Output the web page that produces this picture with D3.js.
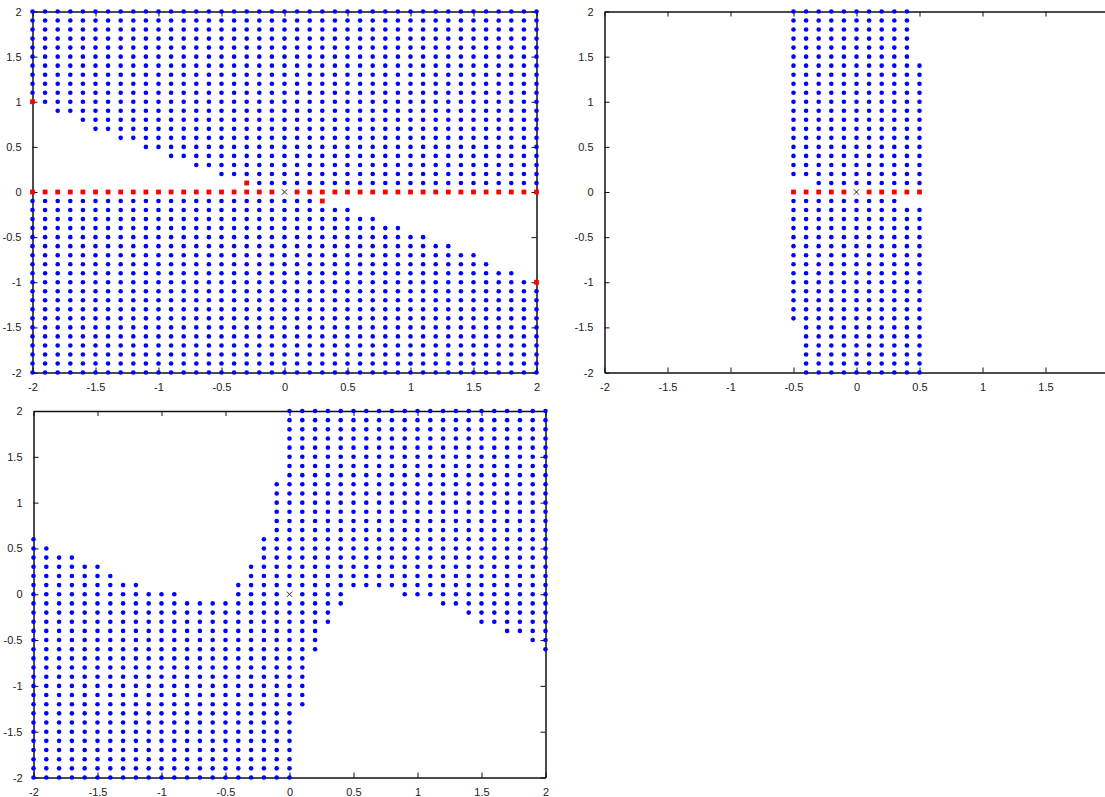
<!DOCTYPE html>
<html>
<head>
<meta charset="utf-8">
<script src="https://cdn.jsdelivr.net/npm/d3@7"></script>
<style>
  body { margin: 0; background: #fff; }
  svg { display: block; }
  .tick text { font-family: "Liberation Sans", Arial, sans-serif; font-size: 11px; fill: #222; }
</style>
</head>
<body>
<div id="chart"></div>
<script>
// tick values shared by every panel
const ticks = [-2, -1.5, -1, -0.5, 0, 0.5, 1, 1.5, 2];
const grid = d3.range(-20, 21).map(i => i / 10); // sample grid, step 0.1

// panel 1 : rows above zero, blue from this x to the right
const p1UpRows = [1.0, 0.9, 0.8, 0.7, 0.6, 0.5, 0.4, 0.3, 0.2, 0.1];
const p1UpStart = [-1.9, -1.8, -1.6, -1.5, -1.3, -1.1, -0.9, -0.7, -0.5, -0.2];
// panel 1 : rows below zero, blue from the left up to this x
const p1DownRows = [-1.0, -0.9, -0.8, -0.7, -0.6, -0.5, -0.4, -0.3, -0.2, -0.1];
const p1DownEnd = [1.9, 1.8, 1.6, 1.5, 1.3, 1.1, 0.9, 0.7, 0.5, 0.2];
const p1Red = [[-2, 1], [-0.3, 0.1], [0.3, -0.1], [2, -1]];

// panel 2 : columns and their y extent
const p2Cols = [-0.5, -0.4, -0.3, -0.2, -0.1, 0, 0.1, 0.2, 0.3, 0.4, 0.5];
const p2Bottom = [-1.4, -2, -2, -2, -2, -2, -2, -2, -2, -2, -2];
const p2Top = [2, 2, 2, 2, 2, 2, 2, 2, 2, 2, 1.4];
const p2Missing = [[-0.5, 0.1], [-0.4, 0.1], [0.4, -0.1], [0.5, -0.1]];

// panel 3 : for every column x = -2.0 .. 2.0, the y extent
const p3Top = [0.6, 0.5, 0.4, 0.4, 0.3, 0.3, 0.2, 0.1, 0.1, 0.0, 0.0, 0.0, -0.1, -0.1, -0.1, -0.1, 0.1, 0.3, 0.6, 1.2,
  2, 2, 2, 2, 2, 2, 2, 2, 2, 2, 2, 2, 2, 2, 2, 2, 2, 2, 2, 2, 2];
const p3Bottom = [-2, -2, -2, -2, -2, -2, -2, -2, -2, -2, -2, -2, -2, -2, -2, -2, -2, -2, -2, -2, -2,
  -1.2, -0.6, -0.3, -0.1, 0.1, 0.1, 0.1, 0.1, 0.0, 0.0, 0.0, -0.1, -0.1, -0.2, -0.3, -0.3, -0.4, -0.4, -0.5, -0.6];

const W = 1105, H = 797;
const svg = d3.select("#chart").append("svg").attr("width", W).attr("height", H);

const eq = (a, b) => Math.abs(a - b) < 1e-6;

function panelPoints(n) {
  const blue = [], red = [];
  if (n === 1) {
    grid.forEach(y => grid.forEach(x => {
      if (eq(x, 0) && eq(y, 0)) return;
      if (eq(y, 0)) { red.push([x, y]); return; }
      if (p1Red.some(p => eq(p[0], x) && eq(p[1], y))) { red.push([x, y]); return; }
      let i = p1UpRows.findIndex(r => eq(r, y));
      if (i >= 0) { if (x >= p1UpStart[i] - 1e-6) blue.push([x, y]); return; }
      i = p1DownRows.findIndex(r => eq(r, y));
      if (i >= 0) { if (x <= p1DownEnd[i] + 1e-6) blue.push([x, y]); return; }
      blue.push([x, y]);
    }));
  } else if (n === 2) {
    p2Cols.forEach((x, i) => grid.forEach(y => {
      if (y < p2Bottom[i] - 1e-6 || y > p2Top[i] + 1e-6) return;
      if (eq(x, 0) && eq(y, 0)) return;
      if (eq(y, 0)) { red.push([x, y]); return; }
      if (p2Missing.some(p => eq(p[0], x) && eq(p[1], y))) return;
      blue.push([x, y]);
    }));
  } else {
    grid.forEach((x, i) => grid.forEach(y => {
      if (y < p3Bottom[i] - 1e-6 || y > p3Top[i] + 1e-6) return;
      if (eq(x, 0) && eq(y, 0)) return;
      blue.push([x, y]);
    }));
  }
  return { blue, red };
}

function drawPanel(n, left, right, top, bottom, clipped) {
  const x = d3.scaleLinear().domain([-2, 2]).range([left, right]);
  const y = d3.scaleLinear().domain([-2, 2]).range([bottom, top]);
  const g = svg.append("g");
  const fmt = d => String(d);
  // the right edge of panel 2 falls outside the window, so its last label is not shown
  const xFmt = clipped ? (d => d === 2 ? "" : String(d)) : fmt;

  const ax = [
    g.append("g").attr("transform", `translate(0,${bottom})`)
      .call(d3.axisBottom(x).tickValues(ticks).tickFormat(xFmt).tickSizeInner(-5).tickSizeOuter(0).tickPadding(11)),
    g.append("g").attr("transform", `translate(0,${top})`)
      .call(d3.axisTop(x).tickValues(ticks).tickFormat("").tickSizeInner(-5).tickSizeOuter(0)),
    g.append("g").attr("transform", `translate(${left},0)`)
      .call(d3.axisLeft(y).tickValues(ticks).tickFormat(fmt).tickSizeInner(-5).tickSizeOuter(0).tickPadding(11))
  ];
  if (!clipped) {
    ax.push(g.append("g").attr("transform", `translate(${right},0)`)
      .call(d3.axisRight(y).tickValues(ticks).tickFormat("").tickSizeInner(-5).tickSizeOuter(0)));
  }
  ax.forEach(a => {
    a.select(".domain").attr("stroke", "#111").attr("stroke-width", 1.5);
    a.selectAll(".tick line").attr("stroke", "#111").attr("stroke-width", 1);
  });

  const pts = panelPoints(n);
  g.append("g").selectAll("circle").data(pts.blue).enter().append("circle")
    .attr("cx", d => x(d[0])).attr("cy", d => y(d[1])).attr("r", 2.3)
    .attr("fill", "#0000ff");
  g.append("g").selectAll("rect").data(pts.red).enter().append("rect")
    .attr("x", d => x(d[0]) - 2.4).attr("y", d => y(d[1]) - 2.4)
    .attr("width", 4.8).attr("height", 4.8).attr("fill", "#ff0000");

  // origin marker
  const ox = x(0), oy = y(0), s = 2.6;
  g.append("path")
    .attr("d", `M${ox - s},${oy - s}L${ox + s},${oy + s}M${ox - s},${oy + s}L${ox + s},${oy - s}`)
    .attr("stroke", "#222").attr("stroke-width", 1).attr("fill", "none");
}

drawPanel(1, 32.5, 536.5, 11.5, 372.5, false);
drawPanel(2, 604.5, 1108.5, 11.5, 372.5, true);
drawPanel(3, 33.5, 545.5, 411, 777.5, false);
</script>
</body>
</html>
